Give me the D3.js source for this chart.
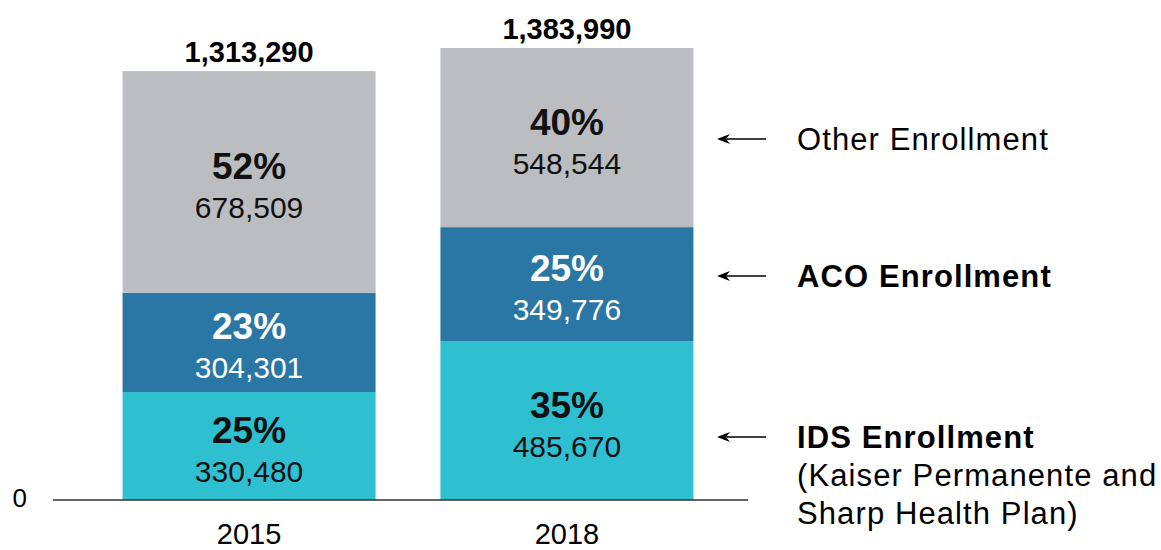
<!DOCTYPE html>
<html>
<head>
<meta charset="utf-8">
<script src="https://cdn.jsdelivr.net/npm/d3@7"></script>
<style>
  body { margin: 0; background: #fff; }
  text { font-family: "Liberation Sans", Arial, Helvetica, sans-serif; }
</style>
</head>
<body>
<div id="chart"></div>
<script>
// data
var years = ["2015", "2018"];
var seriesNames = ["IDS", "ACO", "Other"];
var idsValues = [330480, 485670];
var acoValues = [304301, 349776];
var otherValues = [678509, 548544];
var idsPct = ["25%", "35%"];
var acoPct = ["23%", "25%"];
var otherPct = ["52%", "40%"];
var totals = [1313290, 1383990];
var yTicks = [0];

var width = 1161, height = 550;
var colors = { IDS: "#2ebfd0", ACO: "#2a76a4", Other: "#bcbdc1" };
var textColors = { IDS: "#111", ACO: "#fff", Other: "#111" };

var rows = years.map(function (y, i) {
    return { year: y, IDS: idsValues[i], ACO: acoValues[i], Other: otherValues[i],
             pct: { IDS: idsPct[i], ACO: acoPct[i], Other: otherPct[i] }, total: totals[i] };
});

var svg = d3.select("#chart").append("svg")
    .attr("width", width)
    .attr("height", height);

var xScale = d3.scaleBand()
    .domain(years)
    .range([59, 757])
    .paddingInner(0.204)
    .paddingOuter(0.2);

var yScale = d3.scaleLinear()
    .domain([0, d3.max(totals)])
    .range([500, 48]);

var stack = d3.stack().keys(seriesNames);
var layers = stack(rows);

var fmt = d3.format(",");

var layerG = svg.selectAll("g.layer")
    .data(layers)
    .enter().append("g")
    .attr("class", "layer");

layerG.selectAll("rect")
    .data(function (d) { return d.map(function (p) { p.key = d.key; return p; }); })
    .enter().append("rect")
    .attr("x", function (d) { return xScale(d.data.year); })
    .attr("width", xScale.bandwidth())
    .attr("y", function (d) { return yScale(d[1]); })
    .attr("height", function (d) { return yScale(d[0]) - yScale(d[1]); })
    .attr("fill", function (d) { return colors[d.key]; });

// segment labels: percent (bold) over the count
layerG.selectAll("text.pct")
    .data(function (d) { return d; })
    .enter().append("text")
    .attr("class", "pct")
    .attr("x", function (d) { return xScale(d.data.year) + xScale.bandwidth() / 2; })
    .attr("y", function (d) { return (yScale(d[0]) + yScale(d[1])) / 2 - 3; })
    .attr("text-anchor", "middle")
    .attr("font-size", 37)
    .attr("font-weight", "bold")
    .attr("fill", function (d) { return textColors[d.key]; })
    .text(function (d) { return d.data.pct[d.key]; });

layerG.selectAll("text.val")
    .data(function (d) { return d; })
    .enter().append("text")
    .attr("class", "val")
    .attr("x", function (d) { return xScale(d.data.year) + xScale.bandwidth() / 2; })
    .attr("y", function (d) { return (yScale(d[0]) + yScale(d[1])) / 2 + 36; })
    .attr("text-anchor", "middle")
    .attr("font-size", 30)
    .attr("fill", function (d) { return textColors[d.key]; })
    .text(function (d) { return fmt(d.data[d.key]); });

// totals on top
svg.selectAll("text.total")
    .data(rows)
    .enter().append("text")
    .attr("class", "total")
    .attr("x", function (d) { return xScale(d.year) + xScale.bandwidth() / 2; })
    .attr("y", function (d) { return yScale(d.total) - 9; })
    .attr("text-anchor", "middle")
    .attr("font-size", 29)
    .attr("font-weight", "bold")
    .attr("fill", "#000")
    .text(function (d) { return fmt(d.total); });

// baseline
svg.append("line")
    .attr("x1", 53).attr("x2", 748)
    .attr("y1", yScale(0)).attr("y2", yScale(0))
    .attr("stroke", "#333")
    .attr("stroke-width", 1.5);

svg.selectAll("text.ytick")
    .data(yTicks)
    .enter().append("text")
    .attr("class", "ytick")
    .attr("x", 27)
    .attr("y", function (d) { return yScale(d) + 7; })
    .attr("text-anchor", "end")
    .attr("font-size", 26)
    .attr("fill", "#000")
    .text(function (d) { return d; });

// year labels
svg.selectAll("text.year")
    .data(years)
    .enter().append("text")
    .attr("class", "year")
    .attr("x", function (d) { return xScale(d) + xScale.bandwidth() / 2; })
    .attr("y", 544)
    .attr("text-anchor", "middle")
    .attr("font-size", 29)
    .attr("fill", "#000")
    .text(function (d) { return d; });

// legend on the right with arrows pointing at the 2018 bar
var legend = [
    { key: "Other", lines: ["Other Enrollment"], bold: false },
    { key: "ACO", lines: ["ACO Enrollment"], bold: true },
    { key: "IDS", lines: ["IDS Enrollment", "(Kaiser Permanente and", "Sharp Health Plan)"], bold: true }
];
var legendY = { Other: 139, ACO: 276, IDS: 437 };

legend.forEach(function (l) {
    var ay = legendY[l.key];
    svg.append("line")
        .attr("x1", 766).attr("x2", 722)
        .attr("y1", ay).attr("y2", ay)
        .attr("stroke", "#000")
        .attr("stroke-width", 1.5);
    svg.append("path")
        .attr("d", "M717," + ay + " L730," + (ay - 5) + " L726," + ay + " L730," + (ay + 5) + " Z")
        .attr("fill", "#000");
    var t = svg.append("text")
        .attr("x", 797)
        .attr("y", ay + 11)
        .attr("font-size", 31)
        .attr("letter-spacing", 1.1)
        .attr("fill", "#000");
    l.lines.forEach(function (line, i) {
        t.append("tspan")
            .attr("x", 797)
            .attr("dy", i === 0 ? 0 : 38)
            .attr("font-weight", (i === 0 && l.bold) ? "bold" : "normal")
            .text(line);
    });
});
</script>
</body>
</html>
